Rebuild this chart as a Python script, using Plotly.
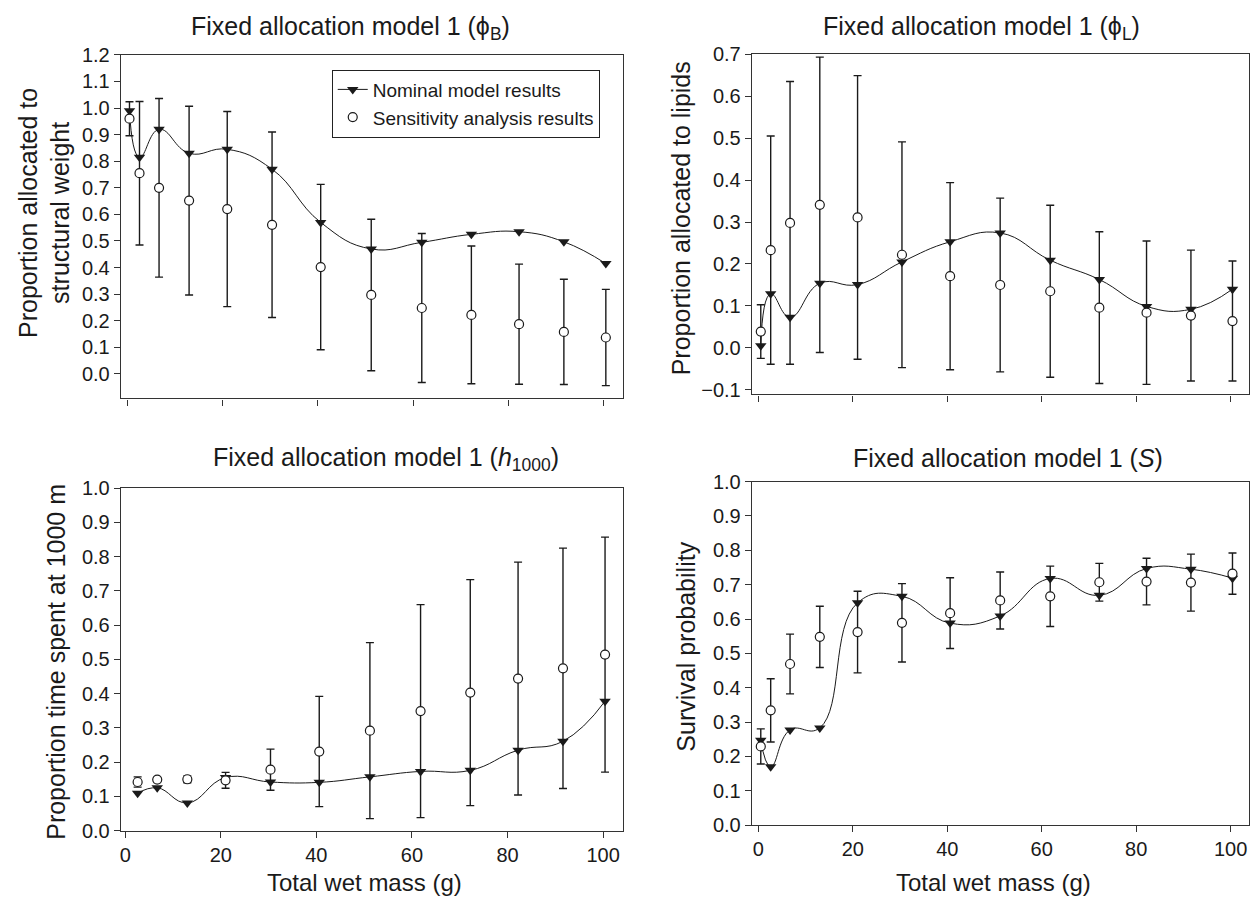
import plotly.graph_objects as go

# ---------------- data ----------------
mass = [0.5, 2.6, 6.7, 13.0, 21.0, 30.4, 40.6, 51.2, 61.8, 72.2, 82.2, 91.6, 100.4]
mass_h = [2.6, 6.7, 13.0, 21.0, 30.4, 40.6, 51.2, 61.8, 72.2, 82.2, 91.6, 100.4]

phiB_nom = [0.99, 0.815, 0.92, 0.83, 0.845, 0.77, 0.57, 0.47, 0.495, 0.525, 0.535, 0.497, 0.415]
phiB_sens = [0.96, 0.755, 0.70, 0.652, 0.62, 0.561, 0.402, 0.297, 0.248, 0.222, 0.187, 0.158, 0.137]
phiB_sd = [0.064, 0.27, 0.336, 0.355, 0.367, 0.349, 0.311, 0.285, 0.28, 0.259, 0.226, 0.198, 0.181]

phiL_nom = [0.005, 0.129, 0.073, 0.154, 0.151, 0.205, 0.253, 0.274, 0.209, 0.163, 0.099, 0.092, 0.140]
phiL_sens = [0.039, 0.233, 0.298, 0.341, 0.311, 0.222, 0.171, 0.150, 0.135, 0.096, 0.084, 0.077, 0.064]
phiL_sd = [0.064, 0.272, 0.337, 0.352, 0.338, 0.269, 0.223, 0.207, 0.205, 0.181, 0.171, 0.156, 0.143]

h_nom = [0.109, 0.125, 0.081, 0.155, 0.142, 0.141, 0.157, 0.173, 0.176, 0.235, 0.261, 0.378]
h_sens = [0.142, 0.149, 0.150, 0.147, 0.178, 0.231, 0.292, 0.349, 0.403, 0.444, 0.474, 0.514]
h_sd = [0.015, 0.006, 0.010, 0.023, 0.060, 0.161, 0.257, 0.311, 0.330, 0.340, 0.351, 0.343]

S_nom = [0.247, 0.170, 0.277, 0.283, 0.647, 0.666, 0.588, 0.609, 0.718, 0.669, 0.747, 0.745, 0.719]
S_sens = [0.229, 0.334, 0.469, 0.548, 0.562, 0.589, 0.617, 0.654, 0.666, 0.707, 0.709, 0.706, 0.732]
S_sd = [0.051, 0.092, 0.087, 0.089, 0.119, 0.114, 0.103, 0.083, 0.088, 0.055, 0.068, 0.083, 0.060]

x_ticks = [0, 20, 40, 60, 80, 100]
titles = ["Fixed allocation model 1 (ϕ<sub>B</sub>)",
          "Fixed allocation model 1 (ϕ<sub>L</sub>)",
          "Fixed allocation model 1 (<i>h</i><sub>1000</sub>)",
          "Fixed allocation model 1 (<i>S</i>)"]
y_titles = ["Proportion allocated to<br>structural weight",
            "Proportion allocated to lipids",
            "Proportion time spent at 1000 m",
            "Survival probability"]
x_title = "Total wet mass (g)"
legend_names = ["Nominal model results", "Sensitivity analysis results"]

# ---------------- figure ----------------
W, H = 1256, 908
FONT = "Liberation Sans, Arial, Helvetica, sans-serif"
INK = "#1a1a1a"
TITLE_SIZE = 25

fig = go.Figure()

panels = [
    (mass, phiB_nom, mass, phiB_sens, phiB_sd, "x", "y"),
    (mass, phiL_nom, mass, phiL_sens, phiL_sd, "x2", "y2"),
    (mass_h, h_nom, mass_h, h_sens, h_sd, "x3", "y3"),
    (mass, S_nom, mass, S_sens, S_sd, "x4", "y4"),
]

for i, (xn, yn, xs, ys, sd, xa, ya) in enumerate(panels):
    fig.add_trace(go.Scatter(
        x=xn, y=yn, xaxis=xa, yaxis=ya, mode="lines+markers",
        name=legend_names[0], showlegend=(i == 0), legendrank=1,
        line=dict(color=INK, width=1, shape="spline", smoothing=1.3),
        marker=dict(symbol="triangle-down", size=10, color=INK),
        cliponaxis=False))
    fig.add_trace(go.Scatter(
        x=xs, y=ys, xaxis=xa, yaxis=ya, mode="markers",
        name=legend_names[1], showlegend=(i == 0), legendrank=2,
        marker=dict(symbol="circle", size=9, color="white",
                    line=dict(color=INK, width=1.2)),
        error_y=dict(type="data", array=sd, visible=True, color=INK,
                     thickness=1.4, width=4),
        cliponaxis=False))

def px_dom_x(a, b):
    return [a / W, b / W]

def px_dom_y(top, bottom):
    return [1 - bottom / H, 1 - top / H]

axis_common = dict(showgrid=False, zeroline=False, showline=True, linecolor="#333",
                   linewidth=1.4, mirror=True, ticks="outside", ticklen=6,
                   tickwidth=1.3, tickcolor="#333",
                   tickfont=dict(family=FONT, size=20, color=INK))

fig.update_layout(
    width=W, height=H, margin=dict(l=0, r=0, t=0, b=0),
    paper_bgcolor="white", plot_bgcolor="white",
    font=dict(family=FONT, color=INK),
    xaxis=dict(domain=px_dom_x(120, 622.5), range=[-1.3, 104.0], anchor="y",
               tickvals=x_ticks, showticklabels=False, **axis_common),
    yaxis=dict(domain=px_dom_y(45, 397), range=[-0.092, 1.2], anchor="x",
               tick0=0, dtick=0.1, tickformat=".1f", **axis_common),
    xaxis2=dict(domain=px_dom_x(751.5, 1249), range=[-1.38, 103.9], anchor="y2",
                tickvals=x_ticks, showticklabels=False, **axis_common),
    yaxis2=dict(domain=px_dom_y(44.3, 393), range=[-0.111, 0.7], anchor="x2",
                tick0=0, dtick=0.1, tickformat=".1f", **axis_common),
    xaxis3=dict(domain=px_dom_x(120, 622.7), range=[-0.9, 104.2], anchor="y3",
                tickvals=x_ticks, **axis_common),
    yaxis3=dict(domain=px_dom_y(489, 840), range=[0, 1.0], anchor="x3",
                tick0=0, dtick=0.1, tickformat=".1f", **axis_common),
    xaxis4=dict(domain=px_dom_x(751.5, 1249), range=[-1.38, 103.9], anchor="y4",
                tickvals=x_ticks, **axis_common),
    yaxis4=dict(domain=px_dom_y(482.3, 834.3), range=[0, 1.0], anchor="x4",
                tick0=0, dtick=0.1, tickformat=".1f", **axis_common),
    legend=dict(x=331 / W, y=1 - 60 / H, xanchor="left", yanchor="top",
                bgcolor="white", bordercolor="#222", borderwidth=1,
                font=dict(family=FONT, size=19, color=INK),
                tracegroupgap=0, itemwidth=30),
    showlegend=True,
)

ann = []
# panel titles
for t, (cx, cy) in zip(titles, [(350, 17), (981, 17), (385, 459), (1008, 458)]):
    ann.append(dict(text=t, x=cx / W, y=1 - cy / H, xref="paper", yref="paper",
                    xanchor="center", yanchor="middle", showarrow=False,
                    font=dict(family=FONT, size=TITLE_SIZE, color=INK)))
# y titles
for t, (cx, cy) in zip(y_titles, [(44, 207), (680, 212), (55, 667), (686, 651)]):
    ann.append(dict(text=t, x=cx / W, y=1 - cy / H, xref="paper", yref="paper",
                    xanchor="center", yanchor="middle", textangle=-90,
                    showarrow=False,
                    font=dict(family=FONT, size=TITLE_SIZE, color=INK)))
# x titles
for cx in [364, 993]:
    ann.append(dict(text=x_title, x=cx / W, y=1 - 893 / H, xref="paper", yref="paper",
                    xanchor="center", yanchor="middle", showarrow=False,
                    font=dict(family=FONT, size=24, color=INK)))
fig.update_layout(annotations=ann)

fig.write_html("out.html")
